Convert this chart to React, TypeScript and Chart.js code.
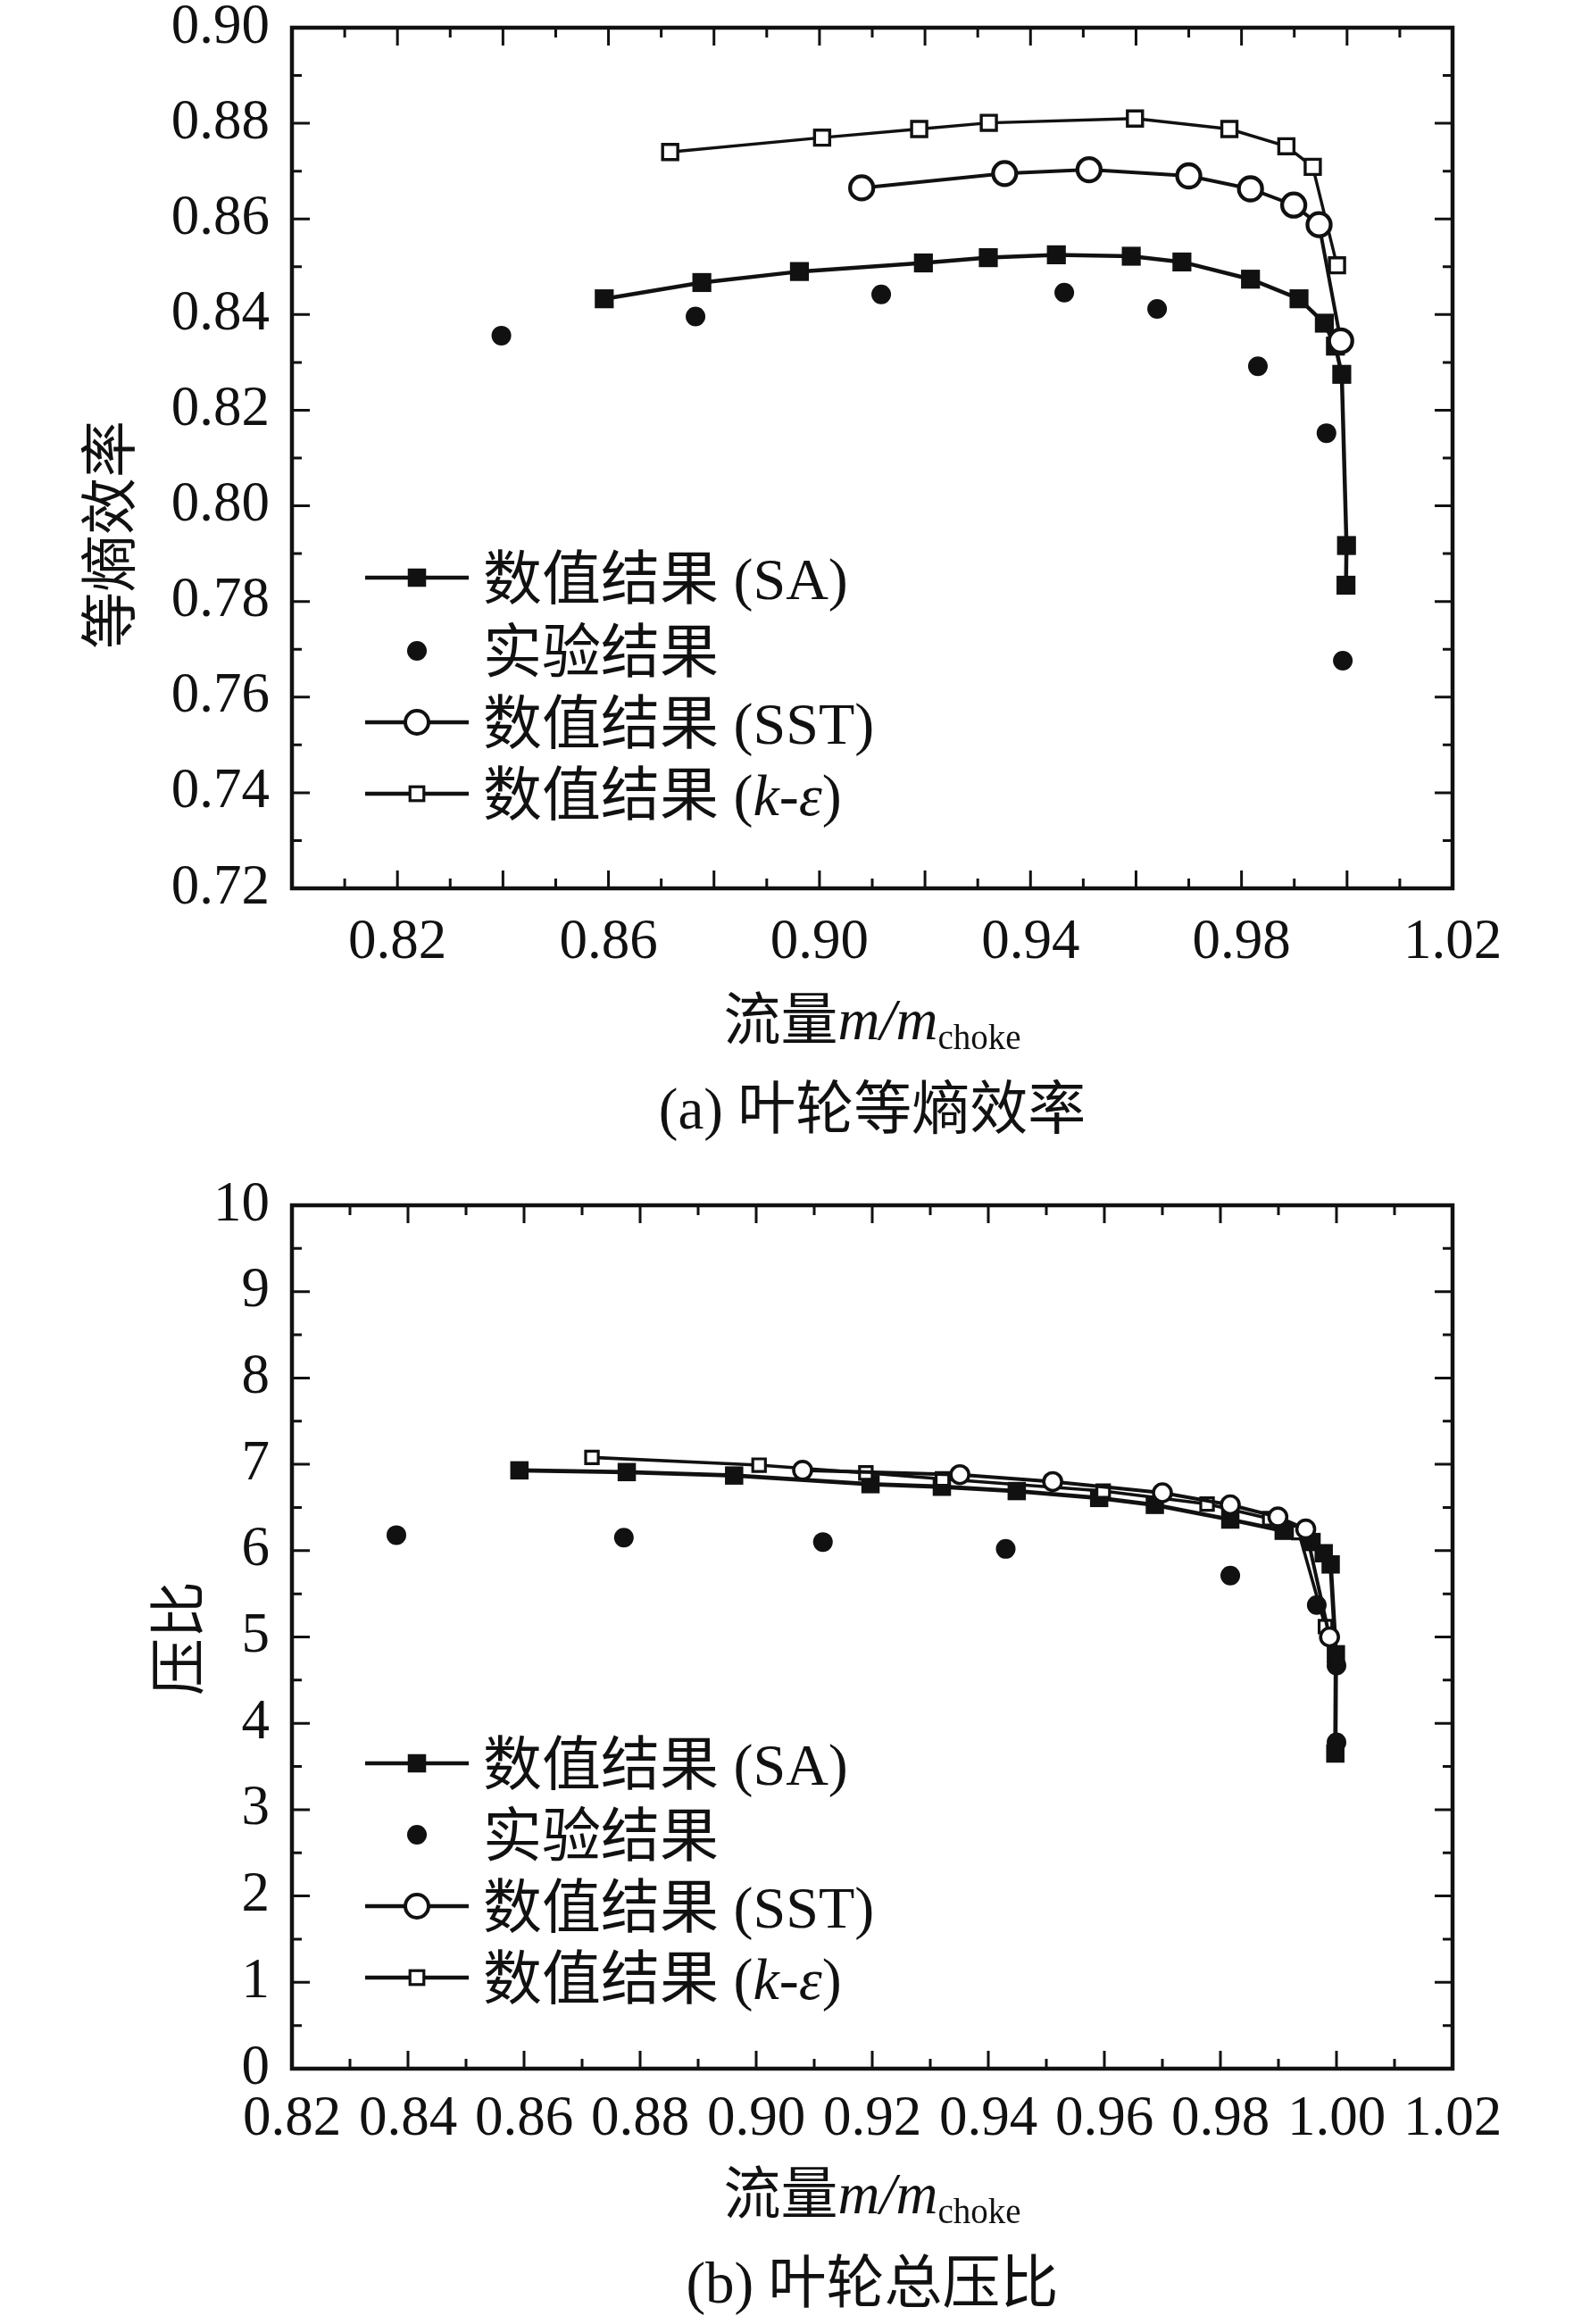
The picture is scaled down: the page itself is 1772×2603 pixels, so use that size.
import React, { useEffect, useRef } from 'react';
import { Chart, registerables } from 'chart.js';

Chart.register(...registerables);

// ---------------- data ----------------
// numerical results (SA turbulence model)
const saFlow = [0.8592, 0.8777, 0.8962, 0.9197, 0.9320, 0.9449, 0.9591, 0.9687, 0.9817, 0.9909, 0.9957, 0.9978, 0.9990, 0.9999, 0.9998];
const saEfficiency = [0.8433, 0.8467, 0.8490, 0.8508, 0.8519, 0.8525, 0.8522, 0.8510, 0.8474, 0.8433, 0.8382, 0.8334, 0.8275, 0.7917, 0.7834];
const saPressureRatio = [6.93, 6.91, 6.87, 6.77, 6.74, 6.69, 6.61, 6.53, 6.36, 6.23, 6.10, 5.97, 5.84, 4.80, 3.65];

// numerical results (SST)
const sstFlow = [0.9080, 0.9351, 0.9511, 0.9700, 0.9817, 0.9899, 0.9947, 0.9988];
const sstEfficiency = [0.8665, 0.8695, 0.8703, 0.8690, 0.8663, 0.8629, 0.8588, 0.8345];
const sstPressureRatio = [6.93, 6.88, 6.80, 6.67, 6.53, 6.39, 6.25, 5.00];

// numerical results (k-epsilon)
const keFlow = [0.8717, 0.9005, 0.9189, 0.9321, 0.9598, 0.9777, 0.9885, 0.9935, 0.9981];
const keEfficiency = [0.8740, 0.8770, 0.8788, 0.8801, 0.8810, 0.8788, 0.8752, 0.8709, 0.8503];
const kePressureRatio = [7.08, 6.99, 6.90, 6.83, 6.69, 6.54, 6.37, 6.21, 5.12];

// experimental results
const expFlowEff = [0.8397, 0.8765, 0.9117, 0.9464, 0.9640, 0.9831, 0.9961, 0.9992];
const expEfficiency = [0.8356, 0.8396, 0.8442, 0.8446, 0.8412, 0.8292, 0.8152, 0.7676];
const expFlowPR = [0.8380, 0.8772, 0.9115, 0.9430, 0.9817, 0.9966, 1.0000, 1.0000];
const expPressureRatio = [6.18, 6.15, 6.10, 6.02, 5.71, 5.37, 4.67, 3.78];

// tick labels
const effXTicks = [0.82, 0.86, 0.90, 0.94, 0.98, 1.02];
const effYTicks = [0.72, 0.74, 0.76, 0.78, 0.80, 0.82, 0.84, 0.86, 0.88, 0.90];
const prXTicks = [0.82, 0.84, 0.86, 0.88, 0.90, 0.92, 0.94, 0.96, 0.98, 1.00, 1.02];
const prYTicks = [0, 1, 2, 3, 4, 5, 6, 7, 8, 9, 10];

// texts
const legendLabels = ['数值结果 (SA)', '实验结果', '数值结果 (SST)', '数值结果 (k-ε)'];
const legendKinds = ['sa', 'exp', 'sst', 'ke'];
const effYTitle = '等熵效率';
const prYTitle = '压比';
const effCaption = '(a) 叶轮等熵效率';
const prCaption = '(b) 叶轮总压比';

// ---------------- styling / layout ----------------
const INK = '#111111';
const SERIF = "'Liberation Serif', 'Times New Roman', 'Noto Sans CJK SC', serif";
const W = 1772;
const PLOT_LEFT = 327;
const PLOT_RIGHT = 1627;
const FRAME_W = 4.5;
const TICK_W = 3;
const MAJOR_LEN = 20;
const MINOR_LEN = 11;

const pts = (xs: number[], ys: number[]) => xs.map((x, i) => ({ x, y: ys[i] }));

type MarkerStyle = { sa: number; exp: number; sst: number; sstBorder: number; ke: number; keBorder: number; saLine: number; sstLine: number; keLine: number };

const markA: MarkerStyle = { sa: 15, exp: 11, sst: 13, sstBorder: 4.3, ke: 12, keBorder: 3.4, saLine: 4.5, sstLine: 4, keLine: 3.4 };
const markB: MarkerStyle = { sa: 14.5, exp: 11, sst: 10, sstBorder: 3.6, ke: 10, keBorder: 3.2, saLine: 4.8, sstLine: 4, keLine: 3.6 };
const markLegend: MarkerStyle = { sa: 14.5, exp: 11, sst: 13, sstBorder: 4, ke: 11, keBorder: 3.2, saLine: 4.5, sstLine: 4.5, keLine: 4.5 };

function makeDatasets(m: MarkerStyle, sa: any[], exp: any[], sst: any[], ke: any[]) {
  return [
    { label: 'exp', data: exp, showLine: false, pointStyle: 'circle', pointRadius: m.exp, pointBackgroundColor: INK, pointBorderColor: INK, pointBorderWidth: 0, order: 0 },
    { label: 'SST', data: sst, showLine: true, borderColor: INK, borderWidth: m.sstLine, pointStyle: 'circle', pointRadius: m.sst, pointBackgroundColor: '#ffffff', pointBorderColor: INK, pointBorderWidth: m.sstBorder, order: 1 },
    { label: 'ke', data: ke, showLine: true, borderColor: INK, borderWidth: m.keLine, pointStyle: 'rect', pointRadius: m.ke, pointBackgroundColor: '#ffffff', pointBorderColor: INK, pointBorderWidth: m.keBorder, order: 2 },
    { label: 'SA', data: sa, showLine: true, borderColor: INK, borderWidth: m.saLine, pointStyle: 'rect', pointRadius: m.sa, pointBackgroundColor: INK, pointBorderColor: INK, pointBorderWidth: 0, order: 3 },
  ];
}

type Spec = {
  key: string;
  top: number;
  height: number;
  plotTop: number;
  plotBottom: number;
  xMin: number; xMax: number; xTicks: number[]; xMinor: number;
  yMin: number; yMax: number; yTicks: number[]; yMinor: number;
  yFormat: (v: number) => string;
  xLabelPad: number;
  datasets: any[];
  yTitle: string; yTitleX: number; yTitleY: number;
  xTitleBaseline: number;
  caption: string; captionBaseline: number;
  legendRows: number[];
};

// canvas A covers page y -100 .. 1300 (local = page + 100)
const specA: Spec = {
  key: 'a', top: -100, height: 1400, plotTop: 131, plotBottom: 1095,
  xMin: 0.80, xMax: 1.02, xTicks: effXTicks, xMinor: 0.01,
  yMin: 0.72, yMax: 0.90, yTicks: effYTicks, yMinor: 0.01,
  yFormat: (v) => v.toFixed(2),
  xLabelPad: 16,
  datasets: makeDatasets(markA, pts(saFlow, saEfficiency), pts(expFlowEff, expEfficiency), pts(sstFlow, sstEfficiency), pts(keFlow, keEfficiency)),
  yTitle: effYTitle, yTitleX: 128, yTitleY: 699,
  xTitleBaseline: 1264,
  caption: effCaption, captionBaseline: 1364,
  legendRows: [747, 829, 909, 989],
};

// canvas B covers page y 1300 .. 2603 (local = page - 1300)
const specB: Spec = {
  key: 'b', top: 1300, height: 1303, plotTop: 50, plotBottom: 1017,
  xMin: 0.82, xMax: 1.02, xTicks: prXTicks, xMinor: 0.01,
  yMin: 0, yMax: 10, yTicks: prYTicks, yMinor: 0.5,
  yFormat: (v) => String(Math.round(v)),
  xLabelPad: 12,
  datasets: makeDatasets(markB, pts(saFlow, saPressureRatio), pts(expFlowPR, expPressureRatio), pts(sstFlow, sstPressureRatio), pts(keFlow, kePressureRatio)),
  yTitle: prYTitle, yTitleX: 205, yTitleY: 535,
  xTitleBaseline: 1179,
  caption: prCaption, captionBaseline: 1279,
  legendRows: [675, 755, 835, 915],
};

type Run = { t: string; f: string; dy?: number };

function drawRuns(ctx: CanvasRenderingContext2D, runs: Run[], cx: number, baseline: number, align: 'center' | 'left') {
  let total = 0;
  for (const r of runs) { ctx.font = r.f; total += ctx.measureText(r.t).width; }
  let x = align === 'center' ? cx - total / 2 : cx;
  ctx.textAlign = 'left';
  ctx.textBaseline = 'alphabetic';
  for (const r of runs) {
    ctx.font = r.f;
    ctx.fillText(r.t, x, baseline + (r.dy || 0));
    x += ctx.measureText(r.t).width;
  }
}

function labelRuns(label: string, size: number): Run[] {
  const runs: Run[] = [];
  for (const ch of label) {
    const it = ch === 'k' || ch === 'ε';
    const f = `${it ? 'italic ' : ''}${size}px ${SERIF}`;
    const last = runs[runs.length - 1];
    if (last && last.f === f) last.t += ch; else runs.push({ t: ch, f });
  }
  return runs;
}

function drawMarker(ctx: CanvasRenderingContext2D, kind: string, x: number, y: number, m: MarkerStyle) {
  ctx.save();
  ctx.fillStyle = INK;
  ctx.strokeStyle = INK;
  if (kind === 'sa') {
    const s = m.sa * Math.SQRT1_2;
    ctx.fillRect(x - s, y - s, 2 * s, 2 * s);
  } else if (kind === 'exp') {
    ctx.beginPath(); ctx.arc(x, y, m.exp, 0, Math.PI * 2); ctx.fill();
  } else if (kind === 'sst') {
    ctx.beginPath(); ctx.arc(x, y, m.sst, 0, Math.PI * 2);
    ctx.fillStyle = '#ffffff'; ctx.fill(); ctx.lineWidth = m.sstBorder; ctx.stroke();
  } else if (kind === 'ke') {
    const s = m.ke * Math.SQRT1_2;
    ctx.fillStyle = '#ffffff'; ctx.fillRect(x - s, y - s, 2 * s, 2 * s);
    ctx.lineWidth = m.keBorder; ctx.strokeRect(x - s, y - s, 2 * s, 2 * s);
  }
  ctx.restore();
}

function makeDecor(spec: Spec) {
  return {
    id: 'decor-' + spec.key,
    afterDatasetsDraw(chart: any) {
      const ctx: CanvasRenderingContext2D = chart.ctx;
      const { left, right, top, bottom } = chart.chartArea;
      const xs = chart.scales.x;
      const ys = chart.scales.y;
      ctx.save();
      ctx.strokeStyle = INK;
      ctx.lineWidth = TICK_W;
      ctx.lineCap = 'butt';
      const nx = Math.round((spec.xMax - spec.xMin) / spec.xMinor);
      for (let i = 0; i <= nx; i++) {
        const px = xs.getPixelForValue(spec.xMin + i * spec.xMinor);
        const len = i % 2 === 0 ? MAJOR_LEN : MINOR_LEN;
        ctx.beginPath();
        ctx.moveTo(px, bottom); ctx.lineTo(px, bottom - len);
        ctx.moveTo(px, top); ctx.lineTo(px, top + len);
        ctx.stroke();
      }
      const ny = Math.round((spec.yMax - spec.yMin) / spec.yMinor);
      for (let i = 0; i <= ny; i++) {
        const py = ys.getPixelForValue(spec.yMin + i * spec.yMinor);
        const len = i % 2 === 0 ? MAJOR_LEN : MINOR_LEN;
        ctx.beginPath();
        ctx.moveTo(left, py); ctx.lineTo(left + len, py);
        ctx.moveTo(right, py); ctx.lineTo(right - len, py);
        ctx.stroke();
      }
      ctx.lineWidth = FRAME_W;
      ctx.strokeRect(left, top, right - left, bottom - top);
      ctx.restore();
    },
    afterDraw(chart: any) {
      const ctx: CanvasRenderingContext2D = chart.ctx;
      const { left, right } = chart.chartArea;
      const cx = (left + right) / 2;
      ctx.save();
      ctx.fillStyle = INK;
      ctx.strokeStyle = INK;

      // legend
      legendLabels.forEach((label, i) => {
        const y = spec.legendRows[i];
        const kind = legendKinds[i];
        if (kind !== 'exp') {
          ctx.lineWidth = 4.5;
          ctx.beginPath(); ctx.moveTo(409, y); ctx.lineTo(525, y); ctx.stroke();
        }
        drawMarker(ctx, kind, 467, y, markLegend);
        ctx.fillStyle = INK;
        drawRuns(ctx, labelRuns(label, 66), 541, y + 24, 'left');
      });

      // y title
      ctx.save();
      ctx.translate(spec.yTitleX, spec.yTitleY);
      ctx.rotate(-Math.PI / 2);
      ctx.font = `64px ${SERIF}`;
      ctx.textAlign = 'center';
      ctx.textBaseline = 'middle';
      ctx.fillText(spec.yTitle, 0, 0);
      ctx.restore();

      // x title
      drawRuns(ctx, [
        { t: '流量', f: `64px ${SERIF}` },
        { t: 'm/m', f: `italic 65px ${SERIF}` },
        { t: 'choke', f: `39px ${SERIF}`, dy: 11 },
      ], cx, spec.xTitleBaseline, 'center');

      // caption
      drawRuns(ctx, [{ t: spec.caption, f: `65px ${SERIF}` }], cx, spec.captionBaseline, 'center');
      ctx.restore();
    },
  };
}

function zeroPad(s: any) {
  s.paddingTop = 0;
  s.paddingBottom = 0;
  s.paddingLeft = 0;
  s.paddingRight = 0;
}

function buildConfig(spec: Spec): any {
  const tickFont = { family: SERIF, size: 63 };
  return {
    type: 'scatter',
    data: { datasets: spec.datasets },
    options: {
      animation: false,
      responsive: false,
      events: [],
      elements: { line: { tension: 0 } },
      layout: { padding: { left: 0, right: W - PLOT_RIGHT, top: spec.plotTop, bottom: 0 } },
      plugins: { legend: { display: false }, tooltip: { enabled: false } },
      scales: {
        x: {
          type: 'linear',
          min: spec.xMin,
          max: spec.xMax,
          afterBuildTicks: (s: any) => { s.ticks = spec.xTicks.map((v) => ({ value: v })); },
          afterFit: (s: any) => { s.height = spec.height - spec.plotBottom; zeroPad(s); },
          grid: { display: false },
          border: { display: false },
          ticks: {
            autoSkip: false, maxRotation: 0, minRotation: 0,
            padding: spec.xLabelPad, color: INK, font: tickFont,
            callback: (v: any) => Number(v).toFixed(2),
          },
        },
        y: {
          type: 'linear',
          min: spec.yMin,
          max: spec.yMax,
          afterBuildTicks: (s: any) => { s.ticks = spec.yTicks.map((v) => ({ value: v })); },
          afterFit: (s: any) => { s.width = PLOT_LEFT; zeroPad(s); },
          grid: { display: false },
          border: { display: false },
          ticks: {
            autoSkip: false, padding: 17, color: INK, font: tickFont,
            callback: (v: any) => spec.yFormat(Number(v)),
          },
        },
      },
    },
    plugins: [makeDecor(spec)],
  };
}

function Panel({ spec }: { spec: Spec }) {
  const ref = useRef<HTMLCanvasElement>(null);
  useEffect(() => {
    if (!ref.current) return;
    const chart = new Chart(ref.current, buildConfig(spec));
    return () => chart.destroy();
  }, [spec]);
  return (
    <canvas
      ref={ref}
      width={W}
      height={spec.height}
      style={{ position: 'absolute', left: 0, top: spec.top, width: W, height: spec.height, display: 'block' }}
    />
  );
}

export default function App() {
  return (
    <div style={{ position: 'absolute', left: 0, top: 0, width: W, height: 2603, background: '#ffffff', overflow: 'hidden' }}>
      <Panel spec={specA} />
      <Panel spec={specB} />
    </div>
  );
}
